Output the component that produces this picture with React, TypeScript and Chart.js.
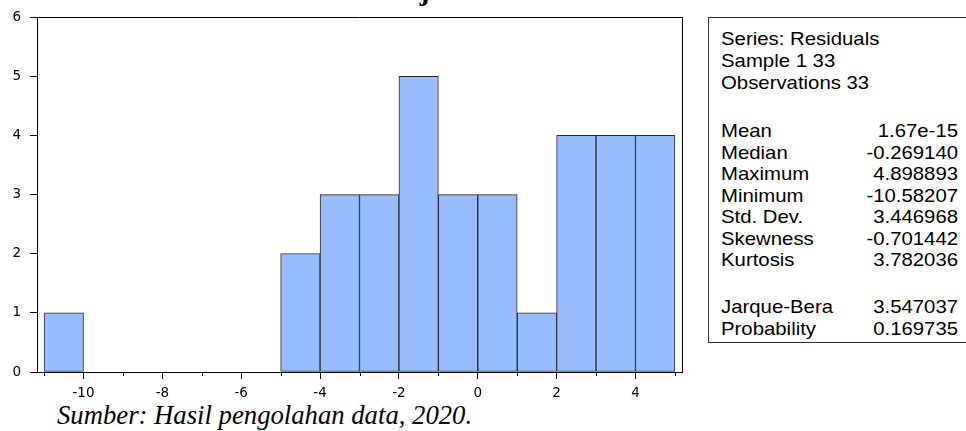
import React, { useEffect, useRef } from "react";
import { Chart, registerables } from "chart.js";

Chart.register(...registerables);

// ---- data ----
const binCenters = [-10.5, -4.5, -3.5, -2.5, -1.5, -0.5, 0.5, 1.5, 2.5, 3.5, 4.5];
const binCounts = [1, 2, 3, 3, 5, 3, 3, 1, 4, 4, 4];
const xMajorTicks = [-10, -8, -6, -4, -2, 0, 2, 4];
const xMinorTicks = [-11, -9, -7, -5, -3, -1, 1, 3, 5];
const yTicks = [0, 1, 2, 3, 4, 5, 6];
const headerLines = ["Series: Residuals", "Sample 1 33", "Observations 33"];
const statNames = ["Mean", "Median", "Maximum", "Minimum", "Std. Dev.", "Skewness", "Kurtosis"];
const statValues = ["1.67e-15", "-0.269140", "4.898893", "-10.58207", "3.446968", "-0.701442", "3.782036"];
const testNames = ["Jarque-Bera", "Probability"];
const testValues = ["3.547037", "0.169735"];
const titleText = "Uji Normalitas";
const captionText = "Sumber: Hasil pengolahan data, 2020.";

const SANS = '"Liberation Sans", Arial, sans-serif';
const TICKFONT = '"DejaVu Sans", "Liberation Sans", sans-serif';
const SERIF = '"Liberation Serif", "Times New Roman", serif';

const framePlugin = {
  id: "frame",
  afterDatasetsDraw(chart: any) {
    const { ctx, chartArea, scales } = chart;
    const { left, top, right, bottom } = chartArea;
    ctx.save();
    ctx.strokeStyle = "#000";
    ctx.lineWidth = 1;
    ctx.beginPath();
    ctx.moveTo(left, Math.round(top) + 0.5);
    ctx.lineTo(Math.round(right) + 0.5, Math.round(top) + 0.5);
    ctx.lineTo(Math.round(right) + 0.5, bottom);
    for (const v of xMinorTicks) {
      const px = Math.round(scales.x.getPixelForValue(v)) + 0.5;
      ctx.moveTo(px, bottom);
      ctx.lineTo(px, bottom + 4);
    }
    ctx.stroke();
    ctx.restore();
  },
};

function HistogramChart() {
  const ref = useRef<HTMLCanvasElement | null>(null);
  useEffect(() => {
    if (!ref.current) return;
    const chart = new Chart(ref.current, {
      type: "bar",
      data: {
        datasets: [
          {
            data: binCenters.map((c, i) => ({ x: c, y: binCounts[i] })),
            backgroundColor: "#97BDFE",
            borderColor: "#2a2a2a",
            borderWidth: 1,
            borderSkipped: false,
            barPercentage: 1,
            categoryPercentage: 1,
          },
        ],
      },
      options: {
        responsive: false,
        animation: false,
        devicePixelRatio: 1,
        layout: { padding: { left: 0, top: 17, right: 18, bottom: 0 } },
        plugins: { legend: { display: false }, tooltip: { enabled: false } },
        scales: {
          x: {
            type: "linear",
            offset: false,
            min: -11.18,
            max: 5.18,
            afterBuildTicks: (s: any) => {
              s.ticks = xMajorTicks.map((v) => ({ value: v }));
            },
            afterFit: (s: any) => {
              s.height = 28;
            },
            grid: {
              offset: false,
              drawOnChartArea: false,
              drawTicks: true,
              tickLength: 7,
              color: "#000",
            },
            border: { display: true, color: "#000", width: 1 },
            ticks: {
              color: "#000",
              font: { family: TICKFONT, size: 13.5 },
              padding: 6,
              maxRotation: 0,
              autoSkip: false,
            },
          },
          y: {
            min: 0,
            max: 6,
            afterBuildTicks: (s: any) => {
              s.ticks = yTicks.map((v) => ({ value: v }));
            },
            afterFit: (s: any) => {
              s.width = 37;
            },
            grid: {
              drawOnChartArea: false,
              drawTicks: true,
              tickLength: 7,
              color: "#000",
            },
            border: { display: true, color: "#000", width: 1 },
            ticks: {
              color: "#000",
              font: { family: TICKFONT, size: 13.5 },
              padding: 9,
            },
          },
        },
      },
      plugins: [framePlugin],
    } as any);
    return () => chart.destroy();
  }, []);
  return (
    <canvas
      ref={ref}
      width={700}
      height={400}
      style={{ position: "absolute", left: 0, top: 0, width: 700, height: 400 }}
    />
  );
}

export default function App() {
  // rows are laid out in the box; centre y given in page coordinates
  const rowStyle = (cy: number): React.CSSProperties => ({
    position: "absolute",
    left: 12,
    top: cy - 17 - 11,
    height: 22,
    lineHeight: "22px",
    width: 215.5,
    whiteSpace: "nowrap",
    transform: "scaleX(1.1)",
    transformOrigin: "left center",
  });
  return (
    <div
      style={{
        position: "absolute",
        left: 0,
        top: 0,
        width: 966,
        height: 431,
        overflow: "hidden",
        background: "#fff",
      }}
    >
      <HistogramChart />
      <div
        style={{
          position: "absolute",
          left: 398,
          top: -25,
          font: `bold 30px ${SERIF}`,
          lineHeight: "30px",
          whiteSpace: "nowrap",
          color: "#000",
        }}
      >
        {titleText}
      </div>
      <div
        style={{
          position: "absolute",
          left: 708,
          top: 17,
          width: 280,
          height: 326,
          border: "1px solid #333",
          boxSizing: "border-box",
          fontFamily: SANS,
          fontSize: 18.5,
          color: "#000",
        }}
      >
        {headerLines.map((t, i) => (
          <div key={"h" + i} style={rowStyle(38 + i * 22)}>
            {t}
          </div>
        ))}
        {statNames.map((t, i) => (
          <div key={"s" + i} style={rowStyle(130 + i * 21.5)}>
            <span>{t}</span>
            <span style={{ position: "absolute", right: 0 }}>{statValues[i]}</span>
          </div>
        ))}
        {testNames.map((t, i) => (
          <div key={"t" + i} style={rowStyle(306 + i * 21.5)}>
            <span>{t}</span>
            <span style={{ position: "absolute", right: 0 }}>{testValues[i]}</span>
          </div>
        ))}
      </div>
      <div
        style={{
          position: "absolute",
          left: 57,
          top: 400,
          font: `italic 26.7px ${SERIF}`,
          lineHeight: "30px",
          whiteSpace: "nowrap",
          color: "#000",
        }}
      >
        {captionText}
      </div>
    </div>
  );
}
